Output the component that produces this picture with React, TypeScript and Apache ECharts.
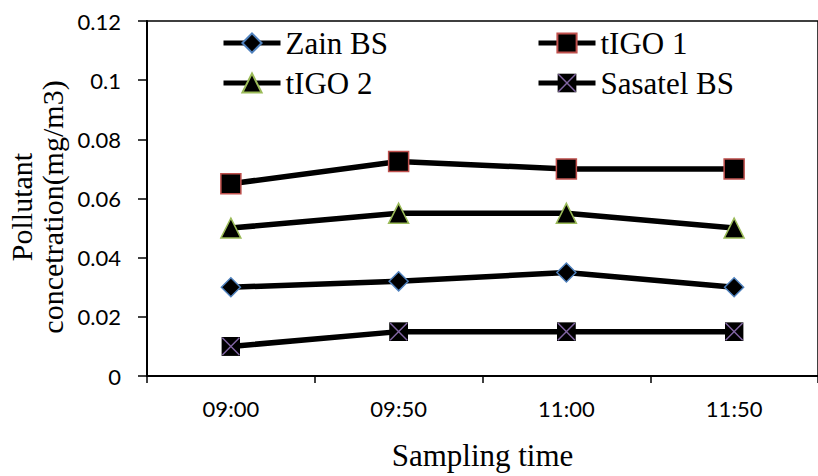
import React, { useEffect, useRef } from "react";
import * as echarts from "echarts";

const categories = ["09:00", "09:50", "11:00", "11:50"];
const zainBS = [0.03, 0.032, 0.035, 0.03];
const tigo1 = [0.065, 0.0725, 0.07, 0.07];
const tigo2 = [0.05, 0.055, 0.055, 0.05];
const sasatelBS = [0.01, 0.015, 0.015, 0.015];
const yMin = 0;
const yMax = 0.12;
const yStep = 0.02;

const xAxisTitle = "Sampling time";
const yAxisTitle = "Pollutant\nconcetration(mg/m3)";

const serif = '"Liberation Serif", "Times New Roman", serif';
const sans = 'Lato, "Open Sans", sans-serif';

const xMarkSvg =
  '<svg xmlns="http://www.w3.org/2000/svg" width="40" height="40" viewBox="0 0 40 40">' +
  '<rect x="0" y="0" width="40" height="40" fill="#000"/>' +
  '<path d="M2 2L38 38M38 2L2 38" stroke="#8064A2" stroke-width="3"/></svg>';
const xMarkSymbol = "image://data:image/svg+xml;charset=utf-8," + encodeURIComponent(xMarkSvg);

export default function App() {
  const ref = useRef<HTMLDivElement>(null);
  useEffect(() => {
    if (!ref.current) return;
    const chart = echarts.init(ref.current, undefined, { renderer: "svg" });
    const legendCommon = {
      padding: 0,
      itemWidth: 57,
      itemHeight: 24,
      itemGap: 0,
      selectedMode: false,
      lineStyle: { width: 5, color: "#000" },
      textStyle: { fontFamily: serif, fontSize: 31, color: "#000", lineHeight: 34 },
    };
    const lineStyle = { color: "#000", width: 5.5 };
    chart.setOption({
      animation: false,
      backgroundColor: "#fff",
      grid: {
        left: 147,
        top: 21,
        right: -12,
        bottom: 98,
        show: true,
        borderColor: "#000",
        borderWidth: 1.5,
        backgroundColor: "transparent",
      },
      legend: [
        { ...legendCommon, data: ["Zain BS"], left: 221, top: 26 },
        { ...legendCommon, data: ["tIGO 1"], left: 536, top: 26 },
        { ...legendCommon, data: ["tIGO 2"], left: 221, top: 66 },
        { ...legendCommon, data: ["Sasatel BS"], left: 536, top: 66 },
      ],
      xAxis: {
        type: "category",
        data: categories,
        boundaryGap: true,
        name: xAxisTitle,
        nameLocation: "middle",
        nameGap: 64,
        nameTextStyle: { fontFamily: serif, fontSize: 31, color: "#000" },
        axisLine: { show: true, lineStyle: { color: "#000", width: 2 } },
        axisTick: { show: true, inside: false, length: 7, lineStyle: { color: "#000", width: 1.5 } },
        axisLabel: { fontFamily: sans, fontSize: 22, color: "#000", margin: 21 },
        splitLine: { show: false },
      },
      yAxis: {
        type: "value",
        min: yMin,
        max: yMax,
        interval: yStep,
        axisLine: { show: true, lineStyle: { color: "#000", width: 2 } },
        axisTick: { show: true, inside: false, length: 9, lineStyle: { color: "#000", width: 1.5 } },
        axisLabel: { fontFamily: sans, fontSize: 22, color: "#000", margin: 26 },
        splitLine: { show: false },
      },
      graphic: [
        {
          type: "text",
          x: 37,
          y: 207,
          rotation: Math.PI / 2,
          style: {
            text: yAxisTitle,
            fontFamily: serif,
            fontSize: 30,
            lineHeight: 31,
            fill: "#000",
            align: "center",
            verticalAlign: "middle",
          },
        },
      ],
      series: [
        {
          name: "Zain BS",
          type: "line",
          data: zainBS,
          symbol: "diamond",
          symbolSize: 19,
          lineStyle,
          itemStyle: { color: "#000", borderColor: "#4F81BD", borderWidth: 1.5 },
          z: 3,
        },
        {
          name: "tIGO 1",
          type: "line",
          data: tigo1,
          symbol: "rect",
          symbolSize: 20,
          lineStyle,
          itemStyle: { color: "#000", borderColor: "#C0504D", borderWidth: 1.5 },
          z: 3,
        },
        {
          name: "tIGO 2",
          type: "line",
          data: tigo2,
          symbol: "triangle",
          symbolSize: 20,
          lineStyle,
          itemStyle: { color: "#000", borderColor: "#9BBB59", borderWidth: 1.5 },
          z: 3,
        },
        {
          name: "Sasatel BS",
          type: "line",
          data: sasatelBS,
          symbol: xMarkSymbol,
          symbolSize: 19,
          lineStyle,
          itemStyle: { color: "#000" },
          z: 3,
        },
      ],
    });
    return () => chart.dispose();
  }, []);
  return (
    <div
      ref={ref}
      style={{ position: "absolute", left: 0, top: 0, width: 818, height: 476, background: "#fff" }}
    />
  );
}
